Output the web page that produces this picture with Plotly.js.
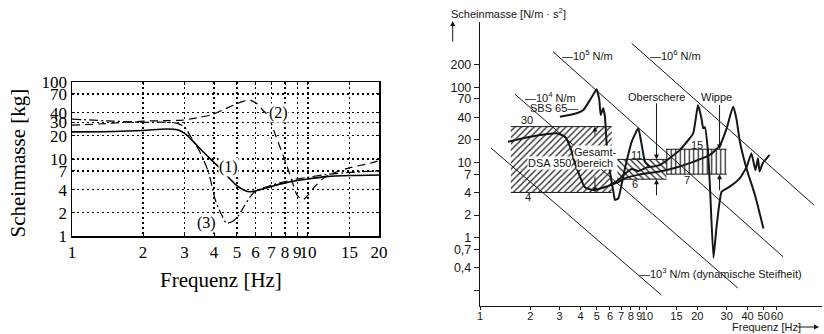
<!DOCTYPE html>
<html>
<head>
<meta charset="utf-8">
<script src="https://cdn.plot.ly/plotly-3.0.1.min.js"></script>
<style>
  html, body { margin: 0; padding: 0; background: #fff; }
  #chart { width: 824px; height: 334px; }
</style>
</head>
<body>
<div id="chart"></div>
<script>
// ---------- Left panel: apparent mass [kg] over frequency, curves (1)-(3) ----------
const leftTickF = [1, 2, 3, 4, 5, 6, 7, 8, 9, 10, 15, 20];
const leftTickM = [1, 2, 4, 7, 10, 20, 30, 40, 70, 100];

const curve1F = [1, 1.5, 2, 2.5, 2.8, 3.0, 3.2, 3.5, 3.8, 4.0, 4.3, 4.6, 5.0, 5.4, 5.7, 6.0, 7, 8, 10, 12, 15, 20];
const curve1M = [22.5, 22.8, 23.5, 24.5, 24, 21.5, 18, 13.5, 10.5, 9.0, 7.3, 5.8, 4.5, 3.9, 3.75, 3.85, 4.4, 4.9, 5.5, 5.9, 6.1, 6.2];

const curve2F = [1, 1.3, 1.7, 2, 2.5, 2.95, 3.5, 3.95, 4.4, 4.82, 5.3, 5.68, 6.06, 6.44, 6.75, 7.3, 7.86, 8.4, 9.0, 9.5, 10.0, 10.7, 12, 14.6, 18.3, 20];
const curve2M = [27.5, 28.5, 30, 31, 31.5, 32, 35, 38, 44, 50, 56, 58, 52.7, 43, 37, 20, 11, 6.2, 3.4, 2.95, 3.4, 4.4, 6.0, 7.5, 8.8, 9.5];

const curve3F = [1, 1.5, 2, 2.5, 2.8, 3.0, 3.2, 3.5, 3.8, 4.04, 4.3, 4.52, 4.8, 5.05, 5.35, 5.68, 6.0, 7, 8, 10, 12, 15, 20];
const curve3M = [33, 31, 30, 30, 29, 26, 19, 12, 6.5, 3.0, 1.9, 1.47, 1.55, 1.8, 2.4, 3.2, 3.85, 4.55, 5.1, 5.8, 6.3, 6.7, 7.0];

const curveLabels = ['(1)', '(2)', '(3)'];
const curveLabelF = [4.6, 7.48, 3.72];
const curveLabelM = [7.9, 39.2, 1.46];

// ---------- Right panel: apparent mass [N/m·s²] of seat and cab components ----------
const rightTickF = [1, 2, 3, 4, 5, 6, 7, 8, 9, 10, 15, 20, 30, 40, 50, 60];
const rightTickM = [0.2, 0.4, 0.7, 1, 2, 4, 7, 10, 20, 40, 70, 100, 200];
const rightTickText = ['', '0,4', '0,7', '1', '2', '4', '7', '10', '20', '40', '70', '100', '200'];

const dsaF = [1.47, 1.81, 2.29, 2.88, 3.23, 3.46, 3.7, 3.97, 4.25, 4.77, 5.74, 6.6, 7.56, 9.0, 11.9, 15.0, 18.9, 23.8, 27.4, 30.0, 32.8, 34.3, 36.0, 39.4, 44.3, 49.8];
const dsaM = [18.9, 21, 23.2, 24.4, 22, 16.2, 9.8, 6.5, 4.7, 4.3, 4.8, 5.4, 6.3, 6.9, 7.6, 8.6, 10.2, 12.6, 17.1, 28.5, 55, 38.6, 18.9, 8.4, 3.7, 1.33];

const sbsF = [3.01, 3.79, 4.16, 4.56, 4.88, 4.99, 5.18, 5.28, 5.47, 5.6, 5.73, 6.0, 6.29, 6.43, 6.73, 7.38, 8.1, 8.87, 9.3, 9.73, 10.4, 11.95, 15.7, 18.9, 20.2, 21.2, 21.7, 22.2, 23.2, 23.8, 25.0, 26.1, 28, 31.3, 36, 39.6, 42.2, 44.6, 46.2, 47.2, 49.3, 54.2];
const sbsM = [40.6, 45.1, 49.9, 67.9, 87, 94, 67.9, 42.7, 52.6, 40.6, 18, 7.5, 4.1, 3.17, 3.34, 8.4, 18.9, 28.5, 17.1, 10.2, 8.8, 9.27, 14.6, 24.4, 58, 38.6, 28.5, 29.5, 13.9, 5.0, 0.54, 1.4, 4.1, 4.77, 6.2, 8.8, 13.3, 7.9, 11.4, 7.6, 9.75, 12.6];

const oberF = [6.0, 6.73, 7.21, 8.09, 8.87, 9.96, 10.4];
const oberM = [5.0, 5.86, 6.8, 8.2, 7.7, 8.6, 8.8];

// constant-stiffness reference lines, end points
const stiffLabels = ['3', '4', '5', '6'];
const stiffF0 = [1.164, 1.62, 2.738, 8.09];
const stiffM0 = [15.6, 80.7, 297, 385];
const stiffF1 = [12.2, 35.0, 65.2, 100];
const stiffM1 = [0.173, 0.214, 0.559, 2.72];
const stiffLabelF = [8.7, 1.82, 3.0, 10.2];
const stiffLabelM = [0.34, 75, 269, 269];
const stiffLabelText = [' (dynamische Steifheit)', '', '', ''];

// tolerance bands: Gesamtbereich DSA 350, Oberschere, Wippe
const bandF0 = [1.53, 6.64, 13.0];
const bandF1 = [6.15, 13.1, 30.0];
const bandLow = [4, 6, 7];
const bandHigh = [30, 11, 15];
const bandPattern = ['/', '\\', '|'];
const bandTopText = ['30', '11', '15'];
const bandTopF = [1.9, 8.66, 19.9];
const bandTopM = [37, 12.6, 17.1];
const bandLowText = ['4', '6', '7'];
const bandLowF = [1.93, 8.46, 17.3];
const bandLowM = [3.5, 5.2, 5.85];

// range arrows: frequency, band value, tail value
const arrowF = [4.88, 4.88, 11.4, 11.4, 27.2, 27.2];
const arrowTip = [30, 4, 11, 6, 15, 7];
const arrowTail = [22, 6.8, 64, 3.5, 61, 4.06];

const nameText = ['Gesamt-', 'DSA 350', 'bereich', 'Oberschere', 'Wippe'];
const nameF = [4.94, 2.59, 4.9, 11.4, 26.1];
const nameM = [13.8, 9.76, 9.76, 74, 74];
const nameBg = ['#fff', '#fff', '#fff', 'rgba(0,0,0,0)', 'rgba(0,0,0,0)'];

// ---------- drawing ----------
const L = Math.log10;
const serif = '"Liberation Serif", "Times New Roman", serif';
const sans = '"Liberation Sans", Arial, sans-serif';
const ink = '#161616';

const traces = [];

// left curves
traces.push({x: curve2F, y: curve2M, xaxis: 'x', yaxis: 'y', mode: 'lines',
  line: {color: '#000', width: 1.2, dash: '8px,5px', shape: 'spline', smoothing: 0.8}});
traces.push({x: curve3F, y: curve3M, xaxis: 'x', yaxis: 'y', mode: 'lines',
  line: {color: '#000', width: 1.2, dash: '9px,3px,2px,3px', shape: 'spline', smoothing: 0.8}});
traces.push({x: curve1F, y: curve1M, xaxis: 'x', yaxis: 'y', mode: 'lines',
  line: {color: '#000', width: 1.6, shape: 'spline', smoothing: 0.8}});

// right: hatched bands
for (let i = 0; i < bandF0.length; i++) {
  traces.push({
    x: [bandF0[i], bandF1[i], bandF1[i], bandF0[i], bandF0[i]],
    y: [bandLow[i], bandLow[i], bandHigh[i], bandHigh[i], bandLow[i]],
    xaxis: 'x2', yaxis: 'y2', mode: 'lines', fill: 'toself',
    fillcolor: 'rgba(0,0,0,0)',
    fillpattern: {shape: bandPattern[i], fgcolor: '#222', bgcolor: 'rgba(255,255,255,0)', size: 4.5, solidity: 0.28},
    line: {width: 0}
  });
  traces.push({
    x: [bandF0[i], bandF1[i], null, bandF0[i], bandF1[i]],
    y: [bandHigh[i], bandHigh[i], null, bandLow[i], bandLow[i]],
    xaxis: 'x2', yaxis: 'y2', mode: 'lines', line: {color: ink, width: 1}
  });
}

// right: stiffness lines
for (let i = 0; i < stiffF0.length; i++) {
  traces.push({x: [stiffF0[i], stiffF1[i]], y: [stiffM0[i], stiffM1[i]],
    xaxis: 'x2', yaxis: 'y2', mode: 'lines', line: {color: ink, width: 1}});
}

// right: measured curves
traces.push({x: dsaF, y: dsaM, xaxis: 'x2', yaxis: 'y2', mode: 'lines',
  line: {color: ink, width: 2, shape: 'spline', smoothing: 0.6}});
traces.push({x: oberF, y: oberM, xaxis: 'x2', yaxis: 'y2', mode: 'lines',
  line: {color: ink, width: 2, shape: 'spline', smoothing: 0.6}});
traces.push({x: sbsF, y: sbsM, xaxis: 'x2', yaxis: 'y2', mode: 'lines',
  line: {color: ink, width: 2, shape: 'spline', smoothing: 0.4}});

const annotations = [];

// left panel titles and curve labels
annotations.push({xref: 'paper', yref: 'paper', x: 221 / 824, y: (334 - 280) / 334,
  xanchor: 'center', yanchor: 'middle',
  text: 'Frequenz [Hz]', showarrow: false, font: {family: serif, size: 21, color: '#000'}});
annotations.push({xref: 'paper', yref: 'paper', x: 17.5 / 824, y: (334 - 163) / 334,
  xanchor: 'center', yanchor: 'middle',
  text: 'Scheinmasse [kg]', textangle: -90, showarrow: false, font: {family: serif, size: 21, color: '#000'}});
for (let i = 0; i < curveLabels.length; i++) {
  annotations.push({xref: 'x', yref: 'y', x: L(curveLabelF[i]), y: L(curveLabelM[i]),
    xanchor: 'center', yanchor: 'middle',
    text: curveLabels[i], showarrow: false, bgcolor: '#fff', borderpad: 0,
    font: {family: serif, size: 16, color: '#000'}});
}

// right panel axis captions
annotations.push({xref: 'paper', yref: 'paper', x: 449 / 824, y: (334 - 13) / 334,
  xanchor: 'left', yanchor: 'middle',
  text: 'Scheinmasse [N/m · s<sup>2</sup>]', showarrow: false, font: {family: sans, size: 11, color: ink}});
annotations.push({xref: 'paper', yref: 'paper', x: 452.7 / 824, y: (334 - 21) / 334,
  text: '', showarrow: true, ax: 0, ay: 22, arrowhead: 2, arrowsize: 1, arrowwidth: 1, arrowcolor: ink});
annotations.push({xref: 'paper', yref: 'paper', x: 730 / 824, y: (334 - 327) / 334,
  xanchor: 'left', yanchor: 'middle',
  text: 'Frequenz [Hz]', showarrow: false, font: {family: sans, size: 11, color: ink}});
annotations.push({xref: 'paper', yref: 'paper', x: 819 / 824, y: (334 - 327) / 334,
  text: '', showarrow: true, ax: -23, ay: 0, arrowhead: 2, arrowsize: 1, arrowwidth: 1, arrowcolor: ink});

// stiffness labels
for (let i = 0; i < stiffLabels.length; i++) {
  annotations.push({xref: 'x2', yref: 'y2', x: L(stiffLabelF[i]), y: L(stiffLabelM[i]),
    xanchor: 'left', yanchor: 'middle',
    text: '—10<sup>' + stiffLabels[i] + '</sup> N/m' + stiffLabelText[i], showarrow: false,
    font: {family: sans, size: 11, color: ink}});
}

// band values
for (let i = 0; i < bandTopText.length; i++) {
  annotations.push({xref: 'x2', yref: 'y2', x: L(bandTopF[i]), y: L(bandTopM[i]), text: bandTopText[i],
    xanchor: 'center', yanchor: 'middle',
    showarrow: false, font: {family: sans, size: 11, color: ink}});
  annotations.push({xref: 'x2', yref: 'y2', x: L(bandLowF[i]), y: L(bandLowM[i]), text: bandLowText[i],
    xanchor: 'center', yanchor: 'middle',
    showarrow: false, font: {family: sans, size: 11, color: ink}});
}

// range arrows
for (let i = 0; i < arrowF.length; i++) {
  annotations.push({xref: 'x2', yref: 'y2', axref: 'x2', ayref: 'y2',
    x: L(arrowF[i]), y: L(arrowTip[i]), ax: L(arrowF[i]), ay: L(arrowTail[i]),
    text: '', showarrow: true, arrowhead: 2, arrowsize: 1, arrowwidth: 1, arrowcolor: ink});
}

// component names
for (let i = 0; i < nameText.length; i++) {
  annotations.push({xref: 'x2', yref: 'y2', x: L(nameF[i]), y: L(nameM[i]), text: nameText[i],
    xanchor: 'center', yanchor: 'middle',
    showarrow: false, bgcolor: nameBg[i], borderpad: 0, font: {family: sans, size: 11, color: ink}});
}
annotations.push({xref: 'x2', yref: 'y2', x: L(3.97), y: L(53), xanchor: 'right', yanchor: 'middle',
  text: 'SBS 65—', showarrow: false, font: {family: sans, size: 11, color: ink}});

const layout = {
  width: 824, height: 334,
  margin: {l: 0, r: 0, t: 0, b: 0},
  paper_bgcolor: '#fff', plot_bgcolor: 'rgba(0,0,0,0)',
  showlegend: false,
  xaxis: {
    type: 'log', domain: [72 / 824, 379 / 824], range: [0, L(20)], anchor: 'y',
    tickmode: 'array', tickvals: leftTickF, ticktext: leftTickF.map(String), tickangle: 0,
    showgrid: true, gridcolor: '#000', griddash: '1.5px,3.5px', gridwidth: 1.3,
    showline: true, linecolor: '#000', linewidth: 1.5, mirror: 'ticks',
    ticks: 'inside', ticklen: 3, tickcolor: '#000', zeroline: false,
    tickfont: {family: serif, size: 17, color: '#000'}
  },
  yaxis: {
    type: 'log', domain: [98 / 334, 252 / 334], range: [0, 2], anchor: 'x',
    tickmode: 'array', tickvals: leftTickM, ticktext: leftTickM.map(String),
    showgrid: true, gridcolor: '#000', griddash: '1.5px,3.5px', gridwidth: 1.3,
    showline: true, linecolor: '#000', linewidth: 1.5, mirror: 'ticks',
    ticks: 'inside', ticklen: 3, tickcolor: '#000', zeroline: false,
    tickfont: {family: serif, size: 17, color: '#000'}
  },
  xaxis2: {
    type: 'log', domain: [480 / 824, 822 / 824], range: [0, 2.048], anchor: 'y2',
    tickmode: 'array', tickvals: rightTickF, ticktext: rightTickF.map(String), tickangle: 0,
    showgrid: false, showline: true, linecolor: ink, linewidth: 1.2, zeroline: false,
    ticks: 'outside', ticklen: 3, tickcolor: ink, ticklabelstandoff: -3,
    tickfont: {family: sans, size: 11, color: ink}
  },
  yaxis2: {
    type: 'log', domain: [28.3 / 334, 312 / 334], range: [-0.904, 2.868], anchor: 'x2',
    tickmode: 'array', tickvals: rightTickM, ticktext: rightTickText,
    showgrid: false, showline: true, linecolor: ink, linewidth: 1.2, zeroline: false,
    ticks: 'outside', ticklen: 5, tickcolor: ink,
    tickfont: {family: sans, size: 12.5, color: ink}
  },
  annotations: annotations
};

Plotly.newPlot('chart', traces, layout, {staticPlot: true, displayModeBar: false});
</script>
</body>
</html>
